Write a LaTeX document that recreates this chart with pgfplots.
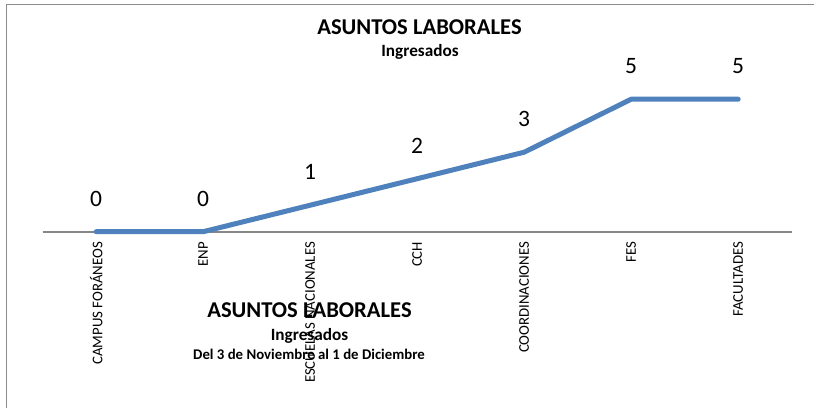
\documentclass[border=0pt]{standalone}
\usepackage{pgfplots}
\pgfplotsset{compat=1.18}
\usepackage{fontspec}
\setmainfont{Carlito}
\definecolor{serie}{RGB}{79,129,189}
\definecolor{marco}{RGB}{140,140,140}
\definecolor{eje}{RGB}{135,135,135}
\begin{document}
\begin{tikzpicture}
\path[use as bounding box] (0bp,0bp) rectangle (814bp,408bp);
\draw[marco, line width=1.4bp] (6.7bp,0bp) -- (6.7bp,403.5bp) -- (814bp,403.5bp);
\begin{axis}[
  scale only axis, width=749bp, height=212bp,
  at={(96.2bp,176.3bp)}, anchor=origin,
  xmin=-0.5, xmax=6.5, ymin=0, ymax=8,
  axis x line*=bottom, axis y line=none,
  x axis line style={eje, line width=1.6bp, -},
  xtick={0,...,6},
  xticklabels={CAMPUS FORÁNEOS, ENP, ESCUELAS NACIONALES, CCH, COORDINACIONES, FES, FACULTADES},
  major tick length=0pt,
  xticklabel style={rotate=90, anchor=east, inner sep=0pt, xshift=-10bp, font=\fontsize{14.8bp}{16bp}\selectfont},
  ytick=\empty,
  clip=false,
  /pgf/number format/assume math mode=true,
  nodes near coords,
  every node near coord/.append style={inner sep=0pt, anchor=south, yshift=23bp, font=\fontsize{23.5bp}{26bp}\selectfont, black},
]
\addplot[serie, line width=5bp, line join=round, line cap=round] coordinates {
(0,0) (1,0) (2,1) (3,2) (4,3) (5,5) (6,5)
};
\end{axis}
\node[anchor=base, inner sep=0pt, font=\bfseries\fontsize{22.6bp}{24bp}\selectfont] at (419.5bp,373bp) {ASUNTOS LABORALES};
\node[anchor=base, inner sep=0pt, font=\bfseries\fontsize{17.2bp}{19bp}\selectfont] at (420bp,351bp) {Ingresados};
\node[anchor=base, inner sep=0pt, font=\bfseries\fontsize{22.6bp}{24bp}\selectfont] at (309.5bp,90bp) {ASUNTOS LABORALES};
\node[anchor=base, inner sep=0pt, font=\bfseries\fontsize{17.2bp}{19bp}\selectfont] at (309.5bp,67bp) {Ingresados};
\node[anchor=base, inner sep=0pt, font=\bfseries\fontsize{14.8bp}{16bp}\selectfont] at (309bp,48bp) {Del 3 de Noviembre al 1 de Diciembre};
\end{tikzpicture}
\end{document}
